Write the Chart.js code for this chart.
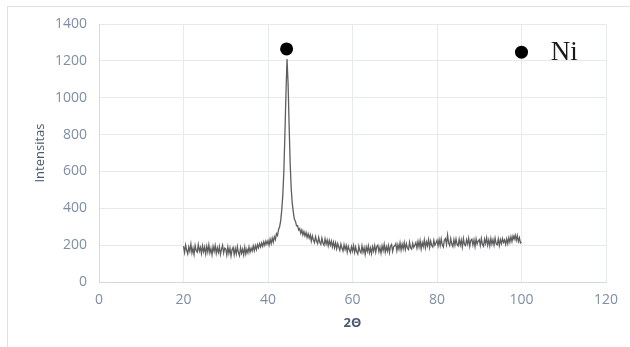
<!DOCTYPE html>
<html>
<head>
<meta charset="utf-8">
<script src="https://cdn.jsdelivr.net/npm/chart.js@4.4.1/dist/chart.umd.min.js"></script>
<style>
  html, body { margin: 0; padding: 0; background: #fff; }
  #wrap { width: 630px; height: 347px; position: relative; }
</style>
</head>
<body>
<div id="wrap"><canvas id="xrdChart"></canvas></div>
<script>
// XRD scan, sampled every 0.25 degree from 20 to 100 (2-theta)
const angleStart = 20;
const angleStep = 0.25;
const intensity = [
  195,160,200,172,152,190,166,205,158,184,150,198,171,162,203,168,188,155,196,164,
  190,152,194,163,201,158,182,148,193,166,198,155,186,160,192,150,178,199,157,184,
  180,146,190,155,184,142,176,188,148,181,152,192,160,143,186,156,179,147,189,152,
  178,158,190,162,184,168,196,170,198,176,203,185,208,190,212,194,218,199,222,205,
  224,200,232,208,238,216,246,230,262,252,285,300,332,390,470,600,800,1020,1210,1080,
  850,640,505,425,378,340,330,305,306,282,290,264,282,255,274,250,268,242,262,238,
  256,222,250,228,214,246,222,208,242,216,204,238,212,200,234,206,228,196,226,200,
  222,190,216,186,212,180,208,190,172,206,184,168,202,176,198,162,194,175,160,192,
  168,198,160,190,164,152,194,168,158,196,162,186,150,190,166,196,158,184,154,192,
  168,198,162,192,200,164,188,156,196,170,204,162,192,168,198,160,194,204,166,192,
  196,208,170,202,178,212,174,206,180,214,176,208,184,176,216,186,178,210,188,200,
  214,184,220,190,224,180,214,192,228,186,218,196,230,188,222,198,190,226,200,212,
  226,196,230,198,234,202,190,228,236,204,255,212,198,236,206,192,230,200,234,204,
  196,232,200,228,190,236,204,198,230,206,238,194,226,232,200,228,192,234,206,222,
  230,198,236,204,194,232,208,240,200,228,196,236,206,230,200,238,208,202,234,198,
  230,208,236,214,228,204,234,208,240,216,246,220,250,232,254,226,252,220,240,212,
  218
];

// Phase markers: peak marker + legend key
const markerAngles = [44.4, 100];
const markerIntensity = [1265, 1247];
const phaseLabel = 'Ni';
const phaseLabelAngle = 106.9;

const xTicks = [0, 20, 40, 60, 80, 100, 120];
const yTicks = [0, 200, 400, 600, 800, 1000, 1200, 1400];

const scanPoints = intensity.map((v, i) => ({ x: angleStart + i * angleStep, y: v }));
const markerPoints = markerAngles.map((a, i) => ({ x: a, y: markerIntensity[i] }));

// frame + phase label
const decorPlugin = {
  id: 'decor',
  beforeDraw(chart) {
    const ctx = chart.ctx;
    ctx.save();
    ctx.strokeStyle = '#dde2ea';
    ctx.lineWidth = 1;
    ctx.strokeRect(7.5, 6.5, 700, 400);
    ctx.restore();
  },
  afterDatasetsDraw(chart) {
    const ctx = chart.ctx;
    const xs = chart.scales.x, ys = chart.scales.y;
    ctx.save();
    ctx.fillStyle = '#1a1a1a';
    ctx.font = '27px "Liberation Serif", serif';
    ctx.textBaseline = 'middle';
    ctx.fillText(phaseLabel, xs.getPixelForValue(phaseLabelAngle), ys.getPixelForValue(markerIntensity[1]) + 1);
    ctx.restore();
  }
};

const tickColor = '#7f8ea4';
const tickFont = { family: 'Open Sans', size: 14 };

new Chart(document.getElementById('xrdChart'), {
  type: 'scatter',
  data: {
    datasets: [
      {
        data: scanPoints,
        showLine: true,
        borderColor: '#5e5e5e',
        borderWidth: 1.3,
        pointRadius: 0,
        tension: 0
      },
      {
        data: markerPoints,
        showLine: false,
        pointRadius: 6.5,
        backgroundColor: '#000',
        borderColor: '#000',
        borderWidth: 0
      }
    ]
  },
  options: {
    responsive: true,
    maintainAspectRatio: false,
    animation: false,
    layout: { padding: { left: 0, right: 24, top: 24, bottom: 0 } },
    plugins: { legend: { display: false }, tooltip: { enabled: false } },
    scales: {
      x: {
        type: 'linear',
        min: 0, max: 120,
        afterBuildTicks: s => { s.ticks = xTicks.map(v => ({ value: v })); },
        afterFit: s => { s.height = 65; },
        grid: { color: '#e6eaf0', drawTicks: false },
        border: { color: '#d3dae4' },
        ticks: { color: tickColor, font: tickFont, padding: 10, callback: v => String(v) },
        title: {
          display: true, text: '2Θ', color: '#4a5a72',
          font: { family: 'Open Sans', size: 13, weight: 'bold' },
          padding: { top: 0, bottom: 16 }
        }
      },
      y: {
        min: 0, max: 1400,
        afterBuildTicks: s => { s.ticks = yTicks.map(v => ({ value: v })); },
        afterFit: s => { s.width = 99; },
        grid: { color: '#e6eaf0', drawTicks: false },
        border: { color: '#d3dae4' },
        ticks: { color: tickColor, font: tickFont, padding: 12, callback: v => String(v) },
        title: {
          display: true, text: 'Intensitas', color: '#4a5a72',
          font: { family: 'Open Sans', size: 13 },
          padding: { top: 32, bottom: 0 }
        }
      }
    }
  },
  plugins: [decorPlugin]
});
</script>
</body>
</html>
